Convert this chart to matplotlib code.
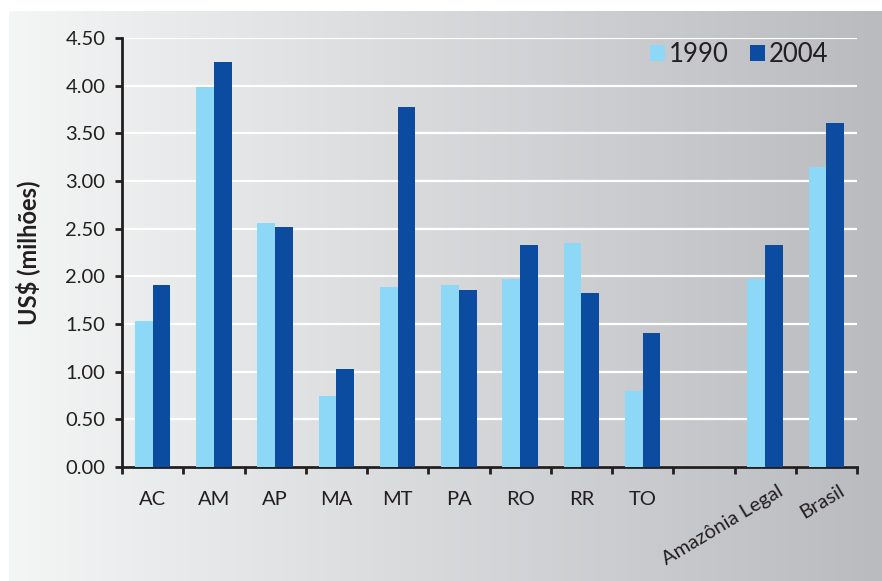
import matplotlib
matplotlib.use('Agg')

import matplotlib.pyplot as plt
import matplotlib.transforms as mtransforms
import numpy as np

plt.rcParams['font.family'] = ['Lato', 'DejaVu Sans']

# Data
categories = ['AC', 'AM', 'AP', 'MA', 'MT', 'PA', 'RO', 'RR', 'TO', '',
              'Amazônia Legal', 'Brasil']
v1990 = [1.53, 3.99, 2.56, 0.75, 1.89, 1.91, 1.97, 2.35, 0.80, np.nan, 1.97, 3.15]
v2004 = [1.91, 4.25, 2.52, 1.03, 3.78, 1.86, 2.33, 1.83, 1.41, np.nan, 2.33, 3.61]
yticks = [0, 0.5, 1.0, 1.5, 2.0, 2.5, 3.0, 3.5, 4.0, 4.5]
rotated = ['Amazônia Legal', 'Brasil']

c1990 = '#8dd8f6'
c2004 = '#0b4ca1'
dark = '#231f20'

fig = plt.figure(figsize=(8.82, 5.81), dpi=100, facecolor='white')

# gradient panel behind the chart
bg = fig.add_axes([9 / 882, 0, 873 / 882, 570 / 581])
grad = np.linspace(0, 1, 256)[None, :]
left_c = np.array([244, 245, 245]) / 255
right_c = np.array([186, 187, 191]) / 255
img = left_c[None, None, :] * (1 - grad[..., None]) + right_c[None, None, :] * grad[..., None]
bg.imshow(img, aspect='auto', extent=[0, 1, 0, 1])
bg.set_axis_off()

ax = fig.add_axes([122 / 882, 114 / 581, 735 / 882, 429 / 581])
ax.patch.set_alpha(0)

x = np.arange(len(categories))
w = 0.29
ax.bar(x - w / 2, v1990, w, color=c1990, label='1990', zorder=3)
ax.bar(x + w / 2, v2004, w, color=c2004, label='2004', zorder=3)

ax.set_xlim(-0.5, len(categories) - 0.5)
ax.set_ylim(0, 4.5)
ax.set_yticks(yticks)
ax.set_yticklabels([f'{t:.2f}' for t in yticks], fontsize=14.5, color=dark)
ax.yaxis.grid(True, color='white', lw=1.6, zorder=0)
ax.set_axisbelow(True)

ax.set_xticks(np.arange(len(categories) + 1) - 0.5)
ax.set_xticklabels([])
ax.tick_params(axis='both', direction='out', length=5, width=2, color=dark)
ax.tick_params(axis='y', pad=7)

for s in ['top', 'right']:
    ax.spines[s].set_visible(False)
for s in ['left', 'bottom']:
    ax.spines[s].set_linewidth(2)
    ax.spines[s].set_color(dark)

trans = mtransforms.blended_transform_factory(ax.transData, ax.transAxes)
for i, lab in enumerate(categories):
    if lab in rotated:
        ax.text(i + 0.2, -0.035, lab, transform=trans, rotation=31,
                rotation_mode='anchor', ha='right', va='top',
                fontsize=14.5, color=dark)
    elif lab:
        ax.text(i, -0.075, lab, transform=trans, ha='center', va='center',
                fontsize=14.5, color=dark)

ax.set_ylabel('US$ (milhões)', fontsize=17, fontweight='bold', color=dark)
ax.yaxis.set_label_coords(-0.112, 0.5)

leg = ax.legend(loc='upper right', bbox_to_anchor=(0.961, 0.99), ncol=2,
                frameon=False, fontsize=18.5, handlelength=0.6, handleheight=0.6,
                handletextpad=0.15, columnspacing=0.8, borderpad=0,
                borderaxespad=0)
for t in leg.get_texts():
    t.set_color(dark)

fig.savefig('out.png', dpi=100, facecolor='white')
